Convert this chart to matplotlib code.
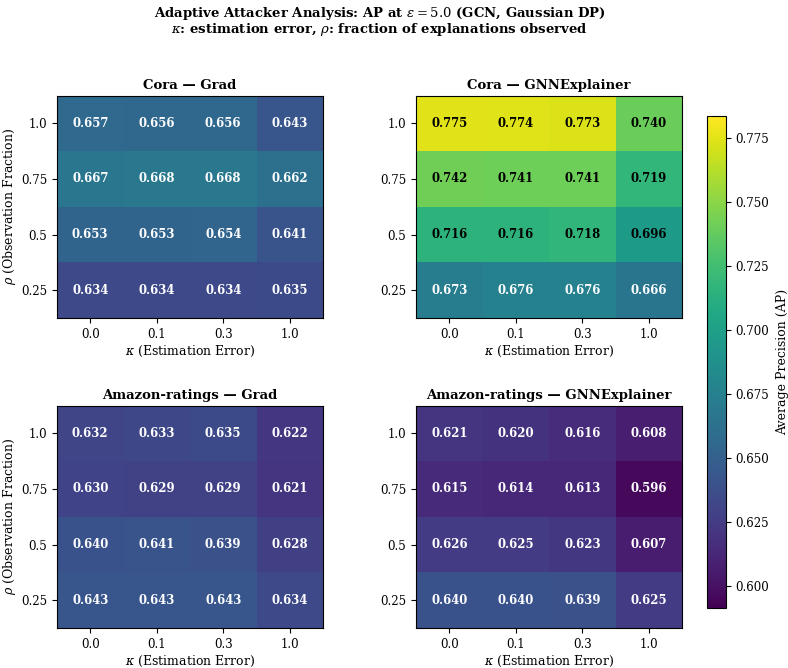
import numpy as np
import matplotlib
matplotlib.use("Agg")
import matplotlib.pyplot as plt

plt.rcParams['font.family'] = 'DejaVu Serif'
plt.rcParams['mathtext.fontset'] = 'dejavuserif'

kappas = ['0.0', '0.1', '0.3', '1.0']
rhos = ['0.25', '0.5', '0.75', '1.0']   # bottom -> top

# rows follow rhos (0.25, 0.5, 0.75, 1.0), columns follow kappas
cora_grad = [[0.634, 0.634, 0.634, 0.635],
             [0.653, 0.653, 0.654, 0.641],
             [0.667, 0.668, 0.668, 0.662],
             [0.657, 0.656, 0.656, 0.643]]
cora_gnnexp = [[0.673, 0.676, 0.676, 0.666],
               [0.716, 0.716, 0.718, 0.696],
               [0.742, 0.741, 0.741, 0.719],
               [0.775, 0.774, 0.773, 0.740]]
amazon_grad = [[0.643, 0.643, 0.643, 0.634],
               [0.640, 0.641, 0.639, 0.628],
               [0.630, 0.629, 0.629, 0.621],
               [0.632, 0.633, 0.635, 0.622]]
amazon_gnnexp = [[0.640, 0.640, 0.639, 0.625],
                 [0.626, 0.625, 0.623, 0.607],
                 [0.615, 0.614, 0.613, 0.596],
                 [0.621, 0.620, 0.616, 0.608]]

panels = [('Cora — Grad', cora_grad),
          ('Cora — GNNExplainer', cora_gnnexp),
          ('Amazon-ratings — Grad', amazon_grad),
          ('Amazon-ratings — GNNExplainer', amazon_gnnexp)]

vmin, vmax = 0.5915, 0.7835
mid = (vmin + vmax) / 2

fig = plt.figure(figsize=(7.88, 6.68), dpi=100)
lefts = [0.0723, 0.528]
bottoms = [0.524, 0.0599]
w, h = 0.3376, 0.333

for i, (title, data) in enumerate(panels):
    r, c = divmod(i, 2)
    ax = fig.add_axes([lefts[c], bottoms[r], w, h])
    arr = np.array(data)
    im = ax.imshow(arr, cmap='viridis', vmin=vmin, vmax=vmax,
                   aspect='auto', origin='lower')
    for yi in range(arr.shape[0]):
        for xi in range(arr.shape[1]):
            v = arr[yi, xi]
            ax.text(xi, yi, f'{v:.3f}', ha='center', va='center',
                    fontsize=8.4, fontweight='bold',
                    color='black' if v > mid else 'white')
    ax.set_xticks(range(len(kappas)))
    ax.set_xticklabels(kappas, fontsize=8.5)
    ax.set_yticks(range(len(rhos)))
    ax.set_yticklabels(rhos, fontsize=8.5)
    ax.set_xlabel(r'$\kappa$ (Estimation Error)', fontsize=9, labelpad=2)
    if c == 0:
        ax.set_ylabel(r'$\rho$ (Observation Fraction)', fontsize=9, labelpad=2)
    ax.set_title(title, fontsize=9.5, fontweight='bold', pad=5)

cax = fig.add_axes([0.897, 0.0898, 0.024, 0.736])
cb = fig.colorbar(im, cax=cax)
cb.set_label('Average Precision (AP)', fontsize=9, labelpad=5)
cb.ax.tick_params(labelsize=8.5)

fig.text(0.482, 0.980, 'Adaptive Attacker Analysis: AP at $\\varepsilon = 5.0$ (GCN, Gaussian DP)',
         ha='center', va='center', fontsize=9.5, fontweight='bold')
fig.text(0.482, 0.956, '$\\kappa$: estimation error, $\\rho$: fraction of explanations observed',
         ha='center', va='center', fontsize=9.5, fontweight='bold')

fig.savefig('out.png', dpi=100)
